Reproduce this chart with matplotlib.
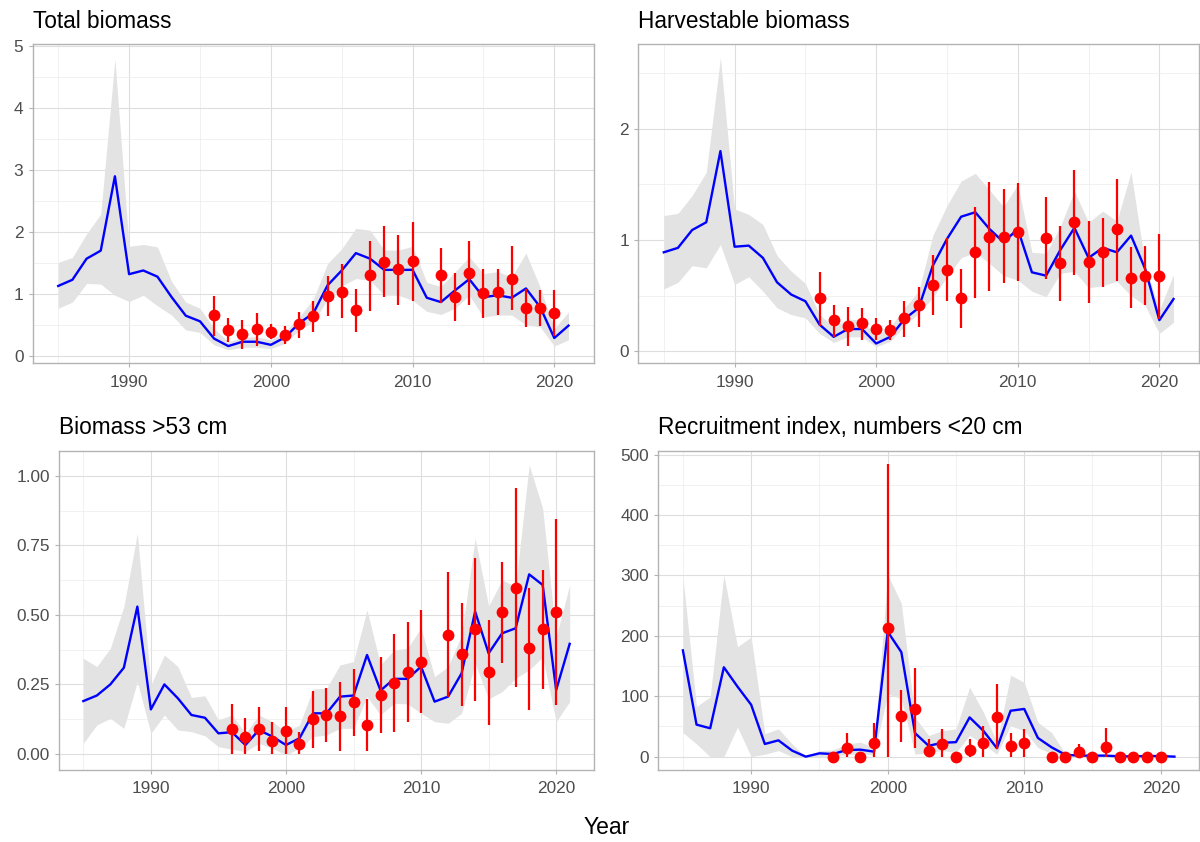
import numpy as np
import matplotlib
matplotlib.use("Agg")
import matplotlib.pyplot as plt
from matplotlib.ticker import MultipleLocator, FixedLocator

plt.rcParams['font.family'] = ['Liberation Sans', 'DejaVu Sans']

# ---------------- data ----------------
years = list(range(1985, 2022))
obs_years = list(range(1996, 2011)) + list(range(2012, 2021))

# Total biomass
tb_est = [1.13, 1.23, 1.57, 1.70, 2.90, 1.32, 1.38, 1.28, 0.95, 0.65, 0.56, 0.28, 0.16, 0.23, 0.23, 0.18,
          0.30, 0.53, 0.69, 1.14, 1.38, 1.66, 1.57, 1.39, 1.39, 1.39, 0.94, 0.87, 1.06, 1.24, 0.95, 0.98,
          0.94, 1.09, 0.79, 0.29, 0.49]
tb_lo = [0.77, 0.87, 1.17, 1.16, 0.98, 0.88, 0.98, 0.81, 0.66, 0.42, 0.38, 0.18, 0.10, 0.14, 0.14, 0.12,
         0.20, 0.42, 0.55, 0.91, 1.13, 1.25, 1.22, 0.98, 0.98, 0.90, 0.72, 0.67, 0.77, 0.98, 0.63, 0.66,
         0.66, 0.50, 0.47, 0.16, 0.26]
tb_hi = [1.51, 1.59, 1.97, 2.29, 4.79, 1.77, 1.80, 1.76, 1.20, 0.87, 0.77, 0.44, 0.23, 0.30, 0.31, 0.26,
         0.39, 0.63, 0.92, 1.49, 1.73, 2.06, 2.03, 1.71, 1.71, 1.77, 1.19, 1.12, 1.36, 1.60, 1.33, 1.36,
         1.28, 1.66, 1.11, 0.44, 0.71]
tb_obs = [0.66, 0.42, 0.35, 0.43, 0.39, 0.34, 0.51, 0.65, 0.97, 1.04, 0.74, 1.30, 1.51, 1.41, 1.54,
          1.31, 0.95, 1.34, 1.02, 1.03, 1.25, 0.77, 0.78, 0.69]
tb_obs_lo = [0.32, 0.22, 0.12, 0.16, 0.27, 0.19, 0.29, 0.38, 0.65, 0.62, 0.39, 0.72, 0.95, 0.83, 0.89,
             0.86, 0.56, 0.83, 0.62, 0.66, 0.74, 0.46, 0.49, 0.32]
tb_obs_hi = [0.97, 0.62, 0.58, 0.69, 0.52, 0.48, 0.71, 0.88, 1.29, 1.48, 1.08, 1.85, 2.09, 1.96, 2.17,
             1.75, 1.34, 1.85, 1.41, 1.41, 1.77, 1.08, 1.06, 1.06]

# Harvestable biomass
hb_est = [0.89, 0.93, 1.09, 1.16, 1.80, 0.94, 0.95, 0.84, 0.62, 0.51, 0.45, 0.24, 0.13, 0.20, 0.20, 0.07,
          0.13, 0.29, 0.39, 0.77, 1.01, 1.21, 1.25, 1.10, 0.98, 1.10, 0.71, 0.68, 0.91, 1.11, 0.84, 0.93,
          0.89, 1.04, 0.74, 0.28, 0.47]
hb_lo = [0.56, 0.62, 0.77, 0.75, 0.96, 0.60, 0.67, 0.54, 0.39, 0.33, 0.30, 0.16, 0.08, 0.13, 0.13, 0.04,
         0.09, 0.23, 0.34, 0.48, 0.67, 0.84, 0.89, 0.79, 0.68, 0.64, 0.54, 0.49, 0.70, 0.72, 0.57, 0.59,
         0.63, 0.50, 0.41, 0.16, 0.26]
hb_hi = [1.22, 1.24, 1.40, 1.61, 2.64, 1.28, 1.23, 1.14, 0.86, 0.72, 0.61, 0.33, 0.22, 0.29, 0.28, 0.14,
         0.22, 0.39, 0.54, 1.04, 1.31, 1.53, 1.60, 1.45, 1.30, 1.50, 0.89, 0.88, 1.12, 1.44, 1.16, 1.26,
         1.17, 1.61, 0.78, 0.37, 0.69]
hb_obs = [0.48, 0.28, 0.23, 0.25, 0.20, 0.19, 0.30, 0.42, 0.60, 0.73, 0.48, 0.89, 1.03, 1.03, 1.07,
          1.02, 0.79, 1.16, 0.80, 0.89, 1.10, 0.66, 0.68, 0.68]
hb_obs_lo = [0.23, 0.13, 0.05, 0.10, 0.10, 0.10, 0.13, 0.22, 0.33, 0.45, 0.21, 0.48, 0.54, 0.61, 0.63,
             0.65, 0.45, 0.69, 0.43, 0.58, 0.63, 0.39, 0.42, 0.29]
hb_obs_hi = [0.71, 0.42, 0.40, 0.39, 0.30, 0.28, 0.45, 0.58, 0.87, 1.02, 0.74, 1.30, 1.52, 1.46, 1.51,
             1.39, 1.13, 1.63, 1.17, 1.20, 1.55, 0.94, 0.95, 1.05]

# Biomass > 53 cm
bl_est = [0.19, 0.21, 0.25, 0.31, 0.53, 0.16, 0.25, 0.20, 0.14, 0.13, 0.074, 0.078, 0.032, 0.086, 0.062,
          0.032, 0.056, 0.146, 0.146, 0.206, 0.21, 0.356, 0.228, 0.27, 0.27, 0.314, 0.188, 0.206, 0.29,
          0.512, 0.362, 0.434, 0.452, 0.646, 0.608, 0.23, 0.396]
bl_lo = [0.038, 0.104, 0.128, 0.092, 0.26, 0.074, 0.14, 0.086, 0.08, 0.065, 0.026, 0.017, 0.008, 0.038,
         0.02, -0.004, 0.02, 0.062, 0.068, 0.092, 0.092, 0.206, 0.14, 0.182, 0.18, 0.146, 0.116, 0.11,
         0.146, 0.326, 0.198, 0.224, 0.272, 0.302, 0.348, 0.116, 0.188]
bl_hi = [0.344, 0.314, 0.38, 0.53, 0.794, 0.248, 0.356, 0.314, 0.203, 0.209, 0.122, 0.14, 0.074, 0.14,
         0.116, 0.08, 0.104, 0.233, 0.236, 0.32, 0.332, 0.518, 0.32, 0.374, 0.38, 0.454, 0.278, 0.314,
         0.428, 0.776, 0.532, 0.626, 0.602, 1.04, 0.884, 0.422, 0.608]
bl_obs = [0.09, 0.06, 0.09, 0.048, 0.084, 0.035, 0.125, 0.14, 0.137, 0.185, 0.104, 0.212, 0.254, 0.296,
          0.332, 0.428, 0.358, 0.448, 0.293, 0.51, 0.598, 0.38, 0.448, 0.512]
bl_obs_lo = [0.0, 0.0, 0.012, 0.0, 0.0, 0.0, 0.02, 0.042, 0.012, 0.065, 0.012, 0.074, 0.08, 0.116,
             0.146, 0.206, 0.174, 0.19, 0.104, 0.326, 0.242, 0.158, 0.234, 0.176]
bl_obs_hi = [0.18, 0.13, 0.17, 0.114, 0.17, 0.077, 0.228, 0.236, 0.26, 0.305, 0.197, 0.35, 0.43, 0.476,
             0.518, 0.656, 0.544, 0.704, 0.482, 0.692, 0.956, 0.596, 0.662, 0.845]

# Recruitment index, numbers < 20 cm
rc_est = [176, 53, 47, 148, 116, 86, 21, 27, 10, 0, 5.5, 4.4, 11, 11.6, 8.3, 207, 173, 39, 18, 23, 24,
          65, 43, 14, 76, 79, 31, 15.5, 3.3, 1.7, 1.7, 1.7, 0.5, 0.5, 1, 1, 0]
rc_lo = [40, 21, 0, 0, 49, 0, 4, 10, 0, 0, 0, 2, 3, 5, 3, 104, 96, 4, 7, 10, 7, 35, 21, 4, 51, 43, 15,
         5, 1, 0, 0, 0, 0, 0, 0, 0, 0]
rc_hi = [298, 83, 99, 301, 182, 198, 38, 46, 21, 0, 10, 11, 21, 24, 15, 301, 254, 65, 35, 43, 46, 115,
         74, 24, 135, 123, 57, 40, 5, 3, 3, 3, 3, 3, 3, 3, 3]
rc_obs = [0, 14, 0, 23, 213, 67, 79, 10, 21, 0, 11, 22, 66, 17, 23, 0, 0, 7, 0, 15.5, 0, 0, 0, 0]
rc_obs_lo = [0, 0, 0, 0, 0, 24, 14, 0, 0, 0, 0, 0, 13, 0, 0, 0, 0, 0, 0, 0, 0, 0, 0, 0]
rc_obs_hi = [0, 39, 0, 55, 484, 110, 146, 29, 46, 0, 29, 51, 120, 39, 46, 0, 0, 21, 0, 48, 0, 0, 0, 0]

titles = ["Total biomass", "Harvestable biomass", "Biomass >53 cm",
          "Recruitment index, numbers <20 cm"]

# ---------------- layout ----------------
W, H = 1200, 842
fig = plt.figure(figsize=(W / 100, H / 100), dpi=100)

def px_axes(l, t, r, b):
    return fig.add_axes([l / W, 1 - b / H, (r - l) / W, (b - t) / H])

panels = [
    dict(box=(32.7, 44.3, 594, 363.3), est=tb_est, lo=tb_lo, hi=tb_hi, obs=tb_obs, olo=tb_obs_lo,
         ohi=tb_obs_hi, ylim=(-0.118, 5.03), major=1, minor=0.5, fmt="{:.0f}"),
    dict(box=(638.3, 44.3, 1199, 363.3), est=hb_est, lo=hb_lo, hi=hb_hi, obs=hb_obs, olo=hb_obs_lo,
         ohi=hb_obs_hi, ylim=(-0.108, 2.76), major=1, minor=0.5, fmt="{:.0f}"),
    dict(box=(59, 450.7, 594, 770), est=bl_est, lo=bl_lo, hi=bl_hi, obs=bl_obs, olo=bl_obs_lo,
         ohi=bl_obs_hi, ylim=(-0.058, 1.091), major=0.25, minor=0.125, fmt="{:.2f}"),
    dict(box=(658.3, 450.7, 1199, 770), est=rc_est, lo=rc_lo, hi=rc_hi, obs=rc_obs, olo=rc_obs_lo,
         ohi=rc_obs_hi, ylim=(-22.1, 506.6), major=100, minor=50, fmt="{:.0f}"),
]

grid_col = "#dedede"
border_col = "#b3b3b3"

for p, title in zip(panels, titles):
    ax = px_axes(*p["box"])
    ax.set_xlim(1983.2, 2022.8)
    ax.set_ylim(*p["ylim"])

    ax.fill_between(years, p["lo"], p["hi"], color="#e3e3e3", linewidth=0, zorder=2)
    ax.plot(years, p["est"], color="#0000ff", linewidth=1.7, zorder=3)
    ax.vlines(obs_years, p["olo"], p["ohi"], color="#ff0000", linewidth=1.6, zorder=4)
    ax.plot(obs_years, p["obs"], linestyle="none", marker="o", markersize=8.5,
            color="#ff0000", markeredgewidth=0, zorder=5)

    ax.xaxis.set_major_locator(FixedLocator([1990, 2000, 2010, 2020]))
    ax.xaxis.set_minor_locator(FixedLocator([1985, 1995, 2005, 2015]))
    ax.yaxis.set_major_locator(MultipleLocator(p["major"]))
    ax.yaxis.set_minor_locator(MultipleLocator(p["minor"]))
    ax.yaxis.set_major_formatter(matplotlib.ticker.FuncFormatter(lambda v, pos, f=p["fmt"]: f.format(v)))

    ax.grid(True, which="major", color=grid_col, linewidth=0.8, zorder=0)
    ax.grid(True, which="minor", color="#ececec", linewidth=0.5, zorder=0)
    ax.set_axisbelow(True)

    for s in ax.spines.values():
        s.set_color(border_col)
        s.set_linewidth(1.0)

    ax.tick_params(which="major", length=3.2, width=0.8, color=border_col,
                   labelsize=12.4, labelcolor="#4d4d4d")
    ax.tick_params(axis="x", which="major", pad=5)
    ax.tick_params(axis="y", which="major", pad=3.5)
    ax.tick_params(which="minor", length=0)

    ax.set_title(title, loc="left", fontsize=16.3, color="black", pad=12)

fig.text(606.7 / W, 1 - 828 / H, "Year", ha="center", va="center", fontsize=16.5, color="black")

fig.savefig("out.png", dpi=100)
